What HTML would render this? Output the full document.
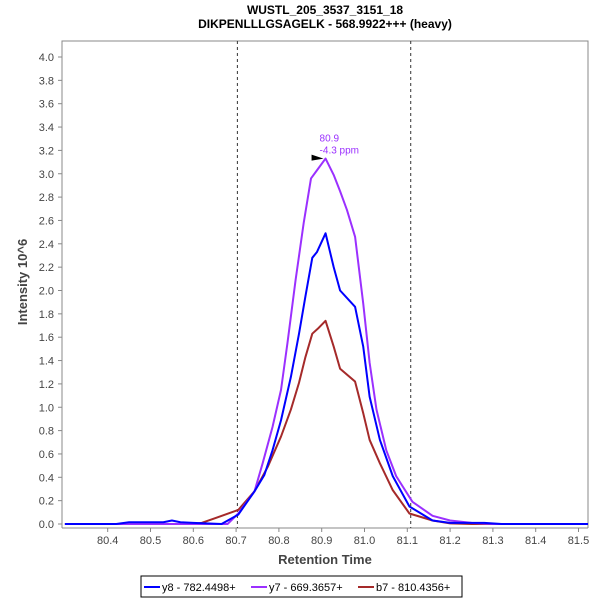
<!DOCTYPE html>
<html><head><meta charset="utf-8"><style>
body{margin:0;background:#fff;font-family:"Liberation Sans",sans-serif}
</style></head><body>
<svg id="c" width="600" height="600" font-family="Liberation Sans, sans-serif">
<defs><clipPath id="clip"><rect x="62" y="41" width="526" height="487"/></clipPath></defs>
<rect width="600" height="600" fill="#fff"/>
<text x="325" y="14" text-anchor="middle" font-size="12" font-weight="bold">WUSTL_205_3537_3151_18</text>
<text x="325" y="28" text-anchor="middle" font-size="12" font-weight="bold">DIKPENLLLGSAGELK - 568.9922+++ (heavy)</text>
<path d="M62,528 V41 H588 V528" fill="#fff" stroke="#888"/>
<line x1="62" y1="528" x2="588" y2="528" stroke="#888"/>
<g id="axes"></g>
<g id="series" clip-path="url(#clip)"></g>
<text transform="translate(27,282) rotate(-90)" text-anchor="middle" font-size="13" font-weight="bold" fill="#444">Intensity 10^6</text>
<text x="325" y="564" text-anchor="middle" font-size="13" font-weight="bold" fill="#444">Retention Time</text>
<g>
<rect x="141" y="576" width="321" height="21" fill="#fff" stroke="#000"/>
<line x1="144" y1="587" x2="160" y2="587" stroke="#0000ff" stroke-width="2"/>
<text x="162" y="591" font-size="11">y8 - 782.4498+</text>
<line x1="251" y1="587" x2="267" y2="587" stroke="#9b30ff" stroke-width="2"/>
<text x="269" y="591" font-size="11">y7 - 669.3657+</text>
<line x1="358" y1="587" x2="374" y2="587" stroke="#a52a2a" stroke-width="2"/>
<text x="376" y="591" font-size="11">b7 - 810.4356+</text>
</g>
</svg>
<script>
const xTicks=[80.4,80.5,80.6,80.7,80.8,80.9,81.0,81.1,81.2,81.3,81.4,81.5];
const yTicks=[0,0.2,0.4,0.6,0.8,1.0,1.2,1.4,1.6,1.8,2.0,2.2,2.4,2.6,2.8,3.0,3.2,3.4,3.6,3.8,4.0];
const boundaries=[80.703,81.108];
const y8T=[80.3,80.42,80.45,80.53,80.55,80.57,80.6,80.666,80.705,80.743,80.766,80.785,80.805,80.828,80.847,80.862,80.878,80.889,80.909,80.928,80.943,80.978,80.997,81.012,81.036,81.066,81.105,81.159,81.2,81.28,81.32,81.53];
const y8I=[0,0,0.015,0.015,0.03,0.015,0.01,0,0.08,0.28,0.42,0.63,0.89,1.26,1.63,1.95,2.28,2.33,2.49,2.2,2.0,1.86,1.52,1.09,0.72,0.41,0.15,0.03,0.01,0.01,0,0];
const y7T=[80.3,80.68,80.705,80.743,80.762,80.785,80.805,80.82,80.839,80.858,80.875,80.889,80.909,80.928,80.943,80.959,80.978,80.997,81.012,81.028,81.051,81.074,81.112,81.159,81.2,81.25,81.3,81.53];
const y7I=[0,0,0.09,0.28,0.52,0.83,1.15,1.55,2.09,2.58,2.96,3.03,3.13,2.99,2.85,2.69,2.46,1.89,1.38,0.98,0.63,0.41,0.19,0.07,0.03,0.01,0,0];
const b7T=[80.3,80.6,80.62,80.651,80.705,80.743,80.774,80.805,80.828,80.847,80.862,80.878,80.893,80.909,80.928,80.943,80.978,80.997,81.012,81.036,81.066,81.105,81.159,81.2,81.25,81.53];
const b7I=[0,0,0.01,0.05,0.12,0.28,0.49,0.75,0.98,1.21,1.43,1.63,1.68,1.74,1.52,1.33,1.22,0.95,0.72,0.52,0.29,0.09,0.03,0.005,0,0];
const apexT=80.909, apexI=3.13;
const X=v=>107.7+(v-80.4)*428;
const Y=v=>524-v*116.75;
const NS='http://www.w3.org/2000/svg';
const ax=document.getElementById('axes'), sg=document.getElementById('series');
function mk(t,a,p){const e=document.createElementNS(NS,t);for(const k in a)e.setAttribute(k,a[k]);p.appendChild(e);return e;}
xTicks.forEach(v=>{
 const l=mk('line',{x1:X(v),x2:X(v),y1:528,y2:532,stroke:'#888'},ax);
 
 
 const t=mk('text',{x:X(v),y:544,'text-anchor':'middle','font-size':11,fill:'#444'},ax);
 t.textContent=v.toFixed(1);
 
 
});
yTicks.forEach(v=>{
 const l=mk('line',{x1:58,x2:62,y1:Y(v),y2:Y(v),stroke:'#888'},ax);
 
 
 const t=mk('text',{x:54,y:Y(v)+4,'text-anchor':'end','font-size':11,fill:'#444'},ax);
 t.textContent=v.toFixed(1);
 
 
});
boundaries.forEach(v=>{
 const l=mk('line',{x1:X(v),x2:X(v),y1:41,y2:528,stroke:'#333','stroke-dasharray':'3,3'},ax);
 
 
});
function series(T,I,color,name){
 const p=mk('polyline',{points:T.map((t,i)=>X(t)+','+Y(I[i])).join(' '),fill:'none',stroke:color,'stroke-width':2,'stroke-linejoin':'round'},sg);
 
 
}
series(b7T,b7I,'#a52a2a','series-b7');
series(y7T,y7I,'#9b30ff','series-y7');
series(y8T,y8I,'#0000ff','series-y8');
const ap=mk('polygon',{points:`${X(apexT)-14},${Y(apexI)-4} ${X(apexT)-2},${Y(apexI)} ${X(apexT)-14},${Y(apexI)+2}`,fill:'#000'},sg);


const a1=mk('text',{x:X(apexT)-6,y:Y(apexI)-17,'font-size':10,fill:'#9b30ff'},sg);
a1.textContent=apexT.toFixed(1);


const a2=mk('text',{x:X(apexT)-6,y:Y(apexI)-5,'font-size':10,fill:'#9b30ff'},sg);
a2.textContent='-4.3 ppm';


</script>
</body></html>
